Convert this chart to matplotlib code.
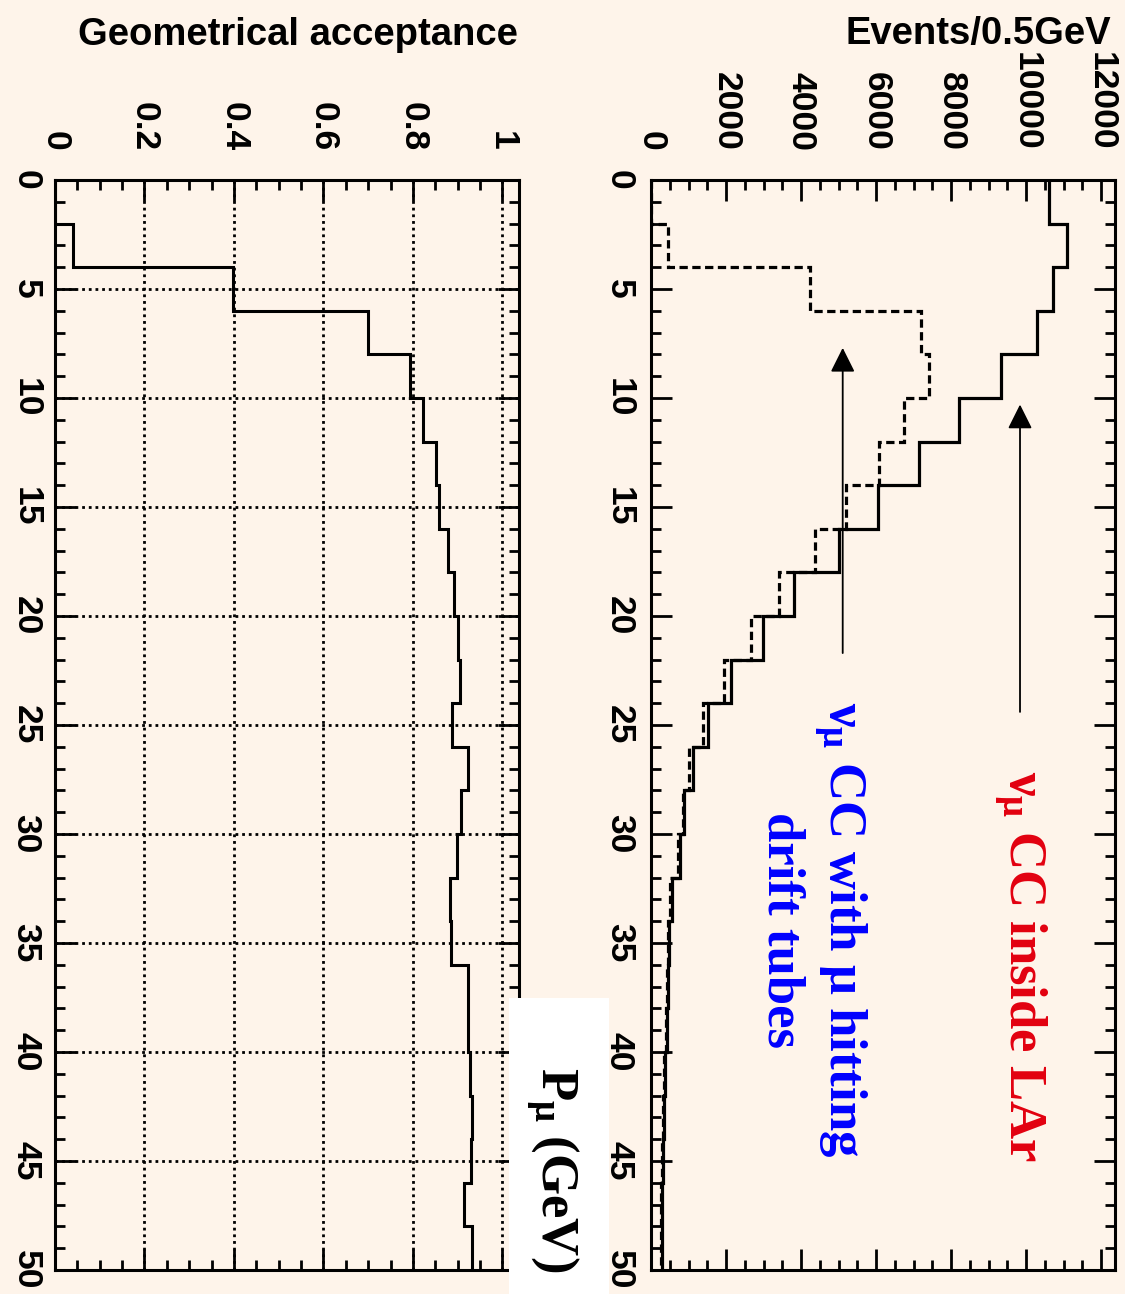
import numpy as np
import matplotlib
matplotlib.use("Agg")
import matplotlib.pyplot as plt
from matplotlib.patches import Rectangle

# muon momentum bins (GeV), 2 GeV wide
p_edges = np.arange(0, 52, 2)

# nu_mu CC events with vertex inside the LAr volume
events_lar = [10600, 11100, 10730, 10300, 9330, 8210, 7140, 6060, 5000, 3820,
              2980, 2130, 1510, 1110, 880, 770, 550, 490, 460, 420,
              370, 350, 330, 300, 280]
# same events with the muon reaching the drift tubes
events_dt = [0, 460, 4240, 7200, 7400, 6750, 6080, 5200, 4370, 3420,
             2660, 1950, 1380, 1020, 860, 730, 505, 440, 420, 388,
             345, 326, 306, 276, 261]
# ratio of the two, per bin
acceptance = [0.0, 0.041, 0.398, 0.699, 0.793, 0.823, 0.851, 0.859, 0.879, 0.892,
              0.901, 0.905, 0.887, 0.924, 0.907, 0.899, 0.883, 0.884, 0.922, 0.922,
              0.928, 0.933, 0.930, 0.915, 0.933]

p_ticks = list(range(0, 55, 5))
p_labels = [str(v) for v in p_ticks]
acc_ticks = [0, 0.2, 0.4, 0.6, 0.8, 1.0]
acc_labels = ["0", "0.2", "0.4", "0.6", "0.8", "1"]
ev_ticks = [0, 2000, 4000, 6000, 8000, 10000, 12000]
ev_labels = [str(v) for v in ev_ticks]

BG = "#fef4ea"
RED = "#e2000f"
BLUE = "#0000ff"

plt.rcParams["font.family"] = ["Liberation Sans", "DejaVu Sans"]
plt.rcParams["font.weight"] = "bold"
plt.rcParams["mathtext.fontset"] = "custom"
plt.rcParams["mathtext.rm"] = "Liberation Serif:bold"
plt.rcParams["mathtext.it"] = "Liberation Serif:bold"
plt.rcParams["mathtext.bf"] = "Liberation Serif:bold"

W, H = 1125, 1294
fig = plt.figure(figsize=(W / 100, H / 100), dpi=100, facecolor=BG)


def px_axes(x0, x1, y0, y1):
    return fig.add_axes([x0 / W, 1 - y1 / H, (x1 - x0) / W, (y1 - y0) / H])


ax_acc = px_axes(55, 519, 180, 1270)
ax_ev = px_axes(651, 1115, 180, 1270)

TICK_FS = 25.5
for ax in (ax_acc, ax_ev):
    ax.set_facecolor(BG)
    ax.set_ylim(50, 0)
    for sp in ax.spines.values():
        sp.set_linewidth(2.2)
    ax.set_yticks(p_ticks, labels=p_labels, rotation=-90, va="center",
                  fontsize=TICK_FS, fontweight="bold")
    ax.set_yticks(range(0, 51), minor=True)
    ax.tick_params(which="both", direction="in", top=True, bottom=True,
                   left=True, right=True, labeltop=True, labelbottom=False,
                   width=2.0)
    ax.tick_params(which="major", length=15)
    ax.tick_params(which="minor", length=7.5)
    ax.tick_params(axis="x", pad=21)

ax_acc.tick_params(axis="y", pad=9)
ax_ev.tick_params(axis="y", pad=11)

# acceptance panel
ax_acc.set_xlim(0, 1.037)
ax_acc.set_xticks(acc_ticks, labels=acc_labels, rotation=-90, ha="center",
                  fontsize=TICK_FS, fontweight="bold")
ax_acc.set_xticks(np.arange(0, 1.04, 0.05), minor=True)
ax_acc.grid(True, which="major", color="black", linestyle=(0, (1, 1.4)), lw=2.0)
ax_acc.stairs(acceptance, p_edges, orientation="horizontal", color="black",
              lw=2.2, baseline=None)

# event spectra panel
ax_ev.set_xlim(0, 12373)
ax_ev.set_xticks(ev_ticks, labels=ev_labels, rotation=-90, ha="center",
                 fontsize=TICK_FS, fontweight="bold")
ax_ev.set_xticks(np.arange(0, 12373, 500), minor=True)
ax_ev.stairs(events_lar, p_edges, orientation="horizontal", color="black",
             lw=2.3, baseline=None)
ax_ev.stairs(events_dt, p_edges, orientation="horizontal", color="black",
             lw=2.3, linestyle=(0, (2.6, 1.4)), baseline=None)

arrow = dict(arrowstyle="-|>,head_length=0.5,head_width=0.25", color="black",
             lw=1.3, mutation_scale=30, shrinkA=0, shrinkB=0)
ax_ev.annotate("", xy=(9840, 10.3), xytext=(9840, 24.4), arrowprops=arrow)
ax_ev.annotate("", xy=(5112, 7.7), xytext=(5112, 21.7), arrowprops=arrow)

ax_ev.text(9840, 36.1, r"$\nu_\mu$ CC inside LAr", color=RED, rotation=-90,
           ha="center", va="center", fontsize=38, family="Liberation Serif",
           fontweight="bold")
ax_ev.text(4320, 34.4, "$\\nu_\\mu$ CC with $\\mu$ hitting\ndrift tubes",
           color=BLUE, rotation=-90, ha="center", va="center",
           multialignment="center", linespacing=1.15, fontsize=38,
           family="Liberation Serif", fontweight="bold")

# axis titles
fig.text(518 / W, 1 - 45 / H, "Geometrical acceptance", ha="right",
         va="baseline", fontsize=27.5, fontweight="bold")
fig.text(1111 / W, 1 - 44 / H, "Events/0.5GeV", ha="right",
         va="baseline", fontsize=27.5, fontweight="bold")

# momentum label on a white patch
fig.patches.append(Rectangle((509 / W, 0), 100 / W, 1 - 998 / H,
                             transform=fig.transFigure, facecolor="white",
                             edgecolor="none", zorder=10))
fig.text(552 / W, 1 - 1170 / H, r"P$_\mu$ (GeV)", rotation=-90, ha="center",
         va="center", fontsize=38, family="Liberation Serif",
         fontweight="bold", zorder=11)

fig.savefig("out.png", dpi=100, facecolor=BG)
